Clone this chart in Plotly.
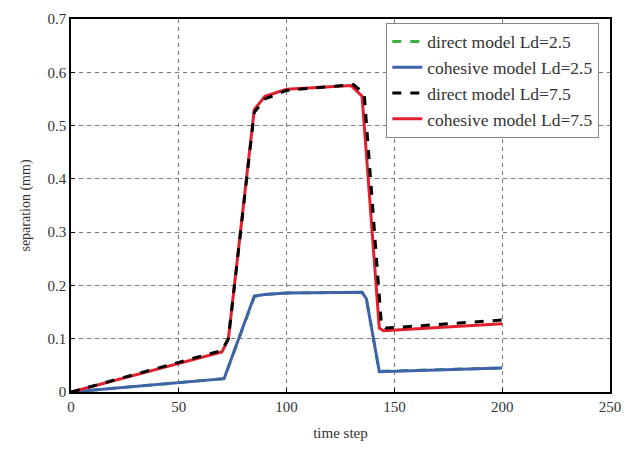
import plotly.graph_objects as go

# Separation histories (mm) over the loading time steps
t_direct_25 = [0, 71, 85, 90, 100, 130, 135, 137, 143, 200]
direct_25 = [0, 0.025, 0.178, 0.183, 0.186, 0.188, 0.187, 0.175, 0.039, 0.045]

t_cohesive_25 = [0, 71, 85, 90, 100, 130, 135, 137, 143, 200]
cohesive_25 = [0, 0.025, 0.18, 0.183, 0.186, 0.188, 0.187, 0.175, 0.038, 0.045]

t_direct_75 = [0, 70, 73, 85, 90, 100, 131, 136, 144, 146, 200]
direct_75 = [0, 0.078, 0.10, 0.525, 0.55, 0.566, 0.577, 0.56, 0.125, 0.12, 0.135]

t_cohesive_75 = [0, 70, 73, 85, 90, 100, 130, 135, 143, 145, 200]
cohesive_75 = [0, 0.075, 0.10, 0.53, 0.555, 0.568, 0.575, 0.555, 0.12, 0.115, 0.128]

x_ticks = [0, 50, 100, 150, 200, 250]
y_ticks = [0, 0.1, 0.2, 0.3, 0.4, 0.5, 0.6, 0.7]
y_tick_labels = ["0", "0.1", "0.2", "0.3", "0.4", "0.5", "0.6", "0.7"]

font = "Liberation Serif, Times New Roman, serif"

fig = go.Figure()
fig.add_trace(go.Scatter(x=t_direct_25, y=direct_25, mode="lines",
                         name="direct model Ld=2.5", legendrank=1,
                         line=dict(color="#3cb043", width=3, dash="dash")))
fig.add_trace(go.Scatter(x=t_cohesive_25, y=cohesive_25, mode="lines",
                         name="cohesive model Ld=2.5", legendrank=2,
                         line=dict(color="#3f62a8", width=3)))
fig.add_trace(go.Scatter(x=t_cohesive_75, y=cohesive_75, mode="lines",
                         name="cohesive model Ld=7.5", legendrank=4,
                         line=dict(color="#e0202c", width=3)))
fig.add_trace(go.Scatter(x=t_direct_75, y=direct_75, mode="lines",
                         name="direct model Ld=7.5", legendrank=3,
                         line=dict(color="#000000", width=3, dash="dash")))

axis_common = dict(
    showline=True, linecolor="#000", linewidth=1.5, mirror=True,
    ticks="inside", ticklen=4, tickcolor="#000",
    showgrid=True, gridcolor="#777", griddash="4px,4px", gridwidth=1,
    zeroline=False,
    tickfont=dict(family=font, size=15, color="#333"),
)

fig.update_xaxes(range=[0, 250], tickvals=x_ticks,
                 title=dict(text="time step", font=dict(family=font, size=15, color="#333"), standoff=14),
                 **axis_common)
fig.update_yaxes(range=[0, 0.7], tickvals=y_ticks, ticktext=y_tick_labels,
                 title=dict(text="separation (mm)", font=dict(family=font, size=14, color="#333"), standoff=14),
                 **axis_common)

fig.update_layout(
    width=632, height=454,
    margin=dict(l=71, r=11, t=16, b=62),
    paper_bgcolor="white", plot_bgcolor="white",
    font=dict(family=font, size=15, color="#333"),
    legend=dict(x=0.585, y=0.99, xanchor="left", yanchor="top",
                bgcolor="white", bordercolor="#888", borderwidth=1,
                font=dict(family=font, size=17.5, color="#333"),
                tracegroupgap=0),
    showlegend=True,
)

fig.write_html("out.html")
